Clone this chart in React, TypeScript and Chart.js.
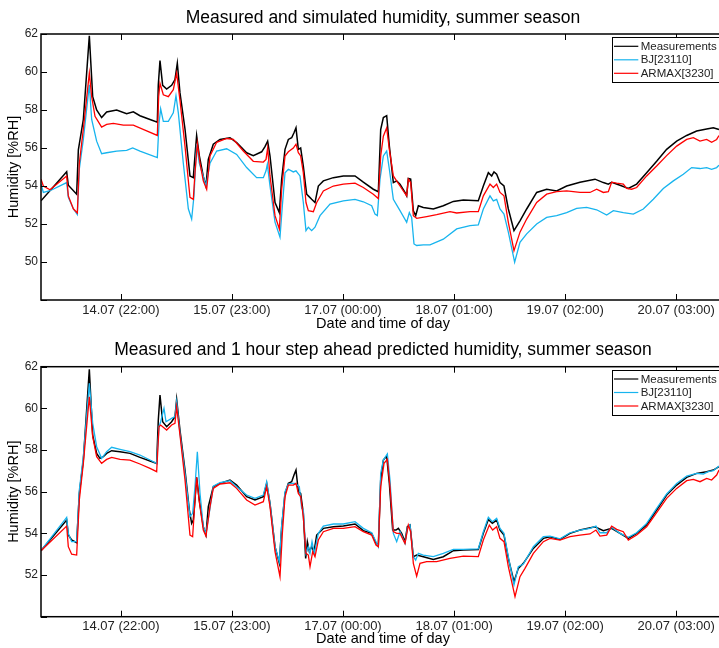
import React, { useEffect, useRef } from 'react';
import { Chart, registerables } from 'chart.js';

Chart.register(...registerables);

const FONT = '"Liberation Sans", Arial, Helvetica, sans-serif';

// Time axis: hours since 14.07 00:00
const tickHours = [22, 47, 72, 97, 122, 147];
const tickLabels = ['14.07 (22:00)', '15.07 (23:00)', '17.07 (00:00)', '18.07 (01:00)', '19.07 (02:00)', '20.07 (03:00)'];
const seriesNames = ['Measurements', 'BJ[23110]', 'ARMAX[3230]'];
const seriesColors = ['#000000', '#17b4ee', '#ff0000'];
const seriesWidths = [1.5, 1.3, 1.3];

// ---- Simulated (top panel) ----
const simMeas = [
  [4.0, 53.22], [9.78, 54.75], [10.15, 54.04], [12.03, 53.57], [12.41, 55.9], [13.53, 57.5], [14.88, 61.9], [15.64, 58.7],
  [16.53, 58.0], [17.65, 57.6], [18.78, 57.9], [21.03, 58.0], [23.28, 57.8], [24.78, 57.9], [26.28, 57.7], [28.54, 57.5],
  [30.19, 57.36], [30.41, 59.33], [30.79, 60.6], [31.39, 59.3], [32.29, 59.1], [33.41, 59.3], [34.16, 59.6], [34.69, 60.46],
  [35.29, 58.9], [36.42, 57.0], [37.54, 54.53], [38.29, 54.44], [38.67, 55.6], [39.04, 56.66], [39.64, 55.6], [40.54, 54.5],
  [41.14, 54.0], [41.67, 55.4], [42.79, 56.2], [44.3, 56.45], [46.55, 56.54], [48.05, 56.28], [50.3, 55.75], [51.8, 55.6],
  [53.68, 55.8], [54.43, 56.07], [55.03, 56.36],
  [55.56, 55.58], [56.69, 53.13], [57.66, 52.6], [58.19, 54.36], [58.94, 55.93], [59.69, 56.45], [60.44, 56.54], [60.96, 56.8],
  [61.41, 57.06], [61.94, 55.93], [62.46, 56.0], [63.06, 55.05], [63.59, 54.0], [63.82, 53.57], [64.19, 53.48], [64.94, 53.3],
  [65.69, 53.13], [66.44, 54.0], [67.57, 54.27], [69.82, 54.44], [72.07, 54.53], [74.7, 54.53], [76.57, 54.2], [78.82, 53.83],
  [79.95, 53.7], [80.48, 56.97], [81.08, 57.6], [81.83, 57.7], [82.43, 56.1], [83.33, 54.18], [84.08, 54.27], [84.83, 54.1],
  [85.95, 53.66], [86.33, 53.48], [86.7, 54.4], [87.23, 54.36], [87.83, 52.7], [88.36, 52.44], [88.96, 52.96], [90.08, 52.87],
  [92.33, 52.79], [94.58, 52.96], [96.84, 53.19], [99.09, 53.26], [102.46, 53.22], [103.59, 54.0], [104.72, 54.7], [105.47, 54.53],
  [105.99, 54.74], [106.59, 54.62], [107.34, 54.18],
  [108.24, 54.0], [109.22, 52.79], [110.49, 51.65], [111.84, 52.17], [113.35, 52.79], [115.6, 53.66], [117.85, 53.83], [120.1, 53.74],
  [122.35, 54.0], [125.35, 54.2], [128.73, 54.36], [130.61, 54.18], [131.73, 54.1], [132.48, 54.2], [134.36, 54.04], [136.23, 53.87],
  [138.11, 54.1], [140.36, 54.7], [142.61, 55.3], [144.86, 55.93], [147.12, 56.36], [149.37, 56.66], [151.62, 56.89], [153.87, 57.0],
  [155.37, 57.06], [156.65, 56.97],
];

const simBj = [
  [4.0, 54.1], [4.53, 53.66], [6.03, 53.75], [9.78, 54.18], [10.15, 53.4], [11.28, 52.8], [12.18, 52.5], [12.63, 54.9],
  [13.53, 56.45], [14.88, 59.33], [15.41, 57.5], [16.53, 56.36], [17.65, 55.7], [18.78, 55.75], [21.03, 55.84], [23.28, 55.87],
  [24.64, 56.0], [26.28, 55.84], [30.19, 55.5], [30.57, 57.3], [30.94, 58.06], [31.54, 57.4], [32.67, 57.4], [33.79, 57.85],
  [34.39, 58.75], [34.92, 57.85], [36.04, 55.2], [37.17, 52.8], [37.92, 52.26], [38.45, 53.5], [39.04, 56.2], [39.64, 55.2],
  [40.54, 54.5], [41.14, 54.0], [42.05, 55.2], [43.55, 55.84], [45.8, 55.96], [48.05, 55.66], [50.3, 54.97], [52.55, 54.44],
  [54.06, 54.44], [54.66, 54.8], [54.96, 55.14],
  [55.56, 54.0], [56.69, 52.1], [57.81, 51.3], [58.34, 52.96], [58.94, 54.7], [59.69, 54.88], [60.81, 54.74], [61.41, 54.8],
  [62.31, 54.53], [63.06, 53.13], [63.66, 51.65], [64.19, 51.83], [64.94, 51.65], [65.69, 51.83], [66.82, 52.44], [69.07, 53.05],
  [72.07, 53.22], [74.7, 53.3], [76.57, 53.17], [78.45, 52.96], [79.2, 52.52], [79.73, 52.44], [80.33, 54.36], [81.08, 55.58],
  [81.83, 55.84], [82.43, 54.88], [83.33, 53.3], [84.83, 52.7], [86.33, 52.09], [86.93, 52.6], [87.45, 52.35], [87.98, 50.95],
  [88.58, 50.87], [90.08, 50.9], [91.58, 50.9], [94.58, 51.2], [97.59, 51.74], [100.59, 51.91], [102.46, 51.95], [103.59, 52.79],
  [105.09, 53.48], [105.84, 53.22], [106.59, 53.3], [107.34, 52.79],
  [108.24, 52.52], [109.22, 51.57], [110.64, 49.99], [111.84, 51.04], [113.35, 51.48], [115.6, 52.0], [117.85, 52.35], [120.1, 52.44],
  [122.35, 52.6], [124.6, 52.82], [126.85, 52.87], [129.1, 52.75], [131.36, 52.47], [132.86, 52.7], [135.11, 52.6], [137.36, 52.52],
  [139.61, 52.79], [141.86, 53.3], [144.11, 53.87], [146.37, 54.27], [148.62, 54.62], [150.49, 54.97], [152.37, 54.92], [153.87, 54.97],
  [154.99, 54.88], [156.12, 54.97], [156.65, 55.1],
];

const simArmax = [
  [4.0, 54.36], [4.53, 54.0], [6.03, 53.8], [9.78, 54.53], [10.15, 53.48], [11.28, 52.8], [12.18, 52.58], [12.63, 55.2],
  [13.53, 57.0], [14.88, 59.94], [15.41, 58.7], [16.16, 57.67], [17.65, 57.1], [18.78, 57.24], [20.29, 57.3], [22.54, 57.2],
  [24.78, 57.2], [27.79, 56.9], [30.19, 56.66], [30.49, 58.7], [30.79, 59.4], [31.54, 58.8], [32.67, 58.7], [33.79, 59.07],
  [34.54, 59.94], [35.29, 58.5], [36.42, 56.1], [37.54, 53.4], [38.29, 53.3], [38.67, 54.7], [39.2, 56.24], [39.8, 55.2],
  [40.54, 54.27], [41.3, 53.83], [42.05, 55.58], [43.55, 56.3], [45.8, 56.5], [47.3, 56.45], [49.55, 55.84], [51.8, 55.3],
  [54.06, 55.26], [54.66, 55.4], [55.03, 56.0],
  [55.56, 54.53], [56.69, 52.44], [57.66, 51.74], [58.19, 53.83], [58.94, 55.58], [59.69, 55.8], [60.81, 56.0], [61.41, 56.2],
  [61.94, 55.75], [62.46, 55.58], [63.06, 54.7], [63.66, 53.13], [64.19, 52.7], [65.32, 52.65], [66.07, 53.13], [67.57, 53.74],
  [69.82, 54.0], [72.07, 54.1], [74.7, 54.15], [76.57, 53.92], [78.82, 53.57], [79.95, 53.34], [80.48, 55.58], [81.08, 56.62],
  [81.83, 57.06], [82.43, 55.93], [83.33, 54.53], [84.83, 54.0], [86.33, 53.48], [86.7, 54.36], [87.23, 54.18], [87.83, 52.44],
  [88.58, 52.3], [90.83, 52.39], [93.08, 52.49], [96.09, 52.65], [97.59, 52.58], [100.59, 52.65], [102.46, 52.65], [103.59, 53.48],
  [105.09, 54.1], [105.84, 53.92], [106.59, 54.1], [107.34, 53.66],
  [108.24, 53.48], [109.22, 52.09], [110.49, 50.6], [111.84, 51.57], [113.35, 52.26], [115.6, 53.13], [117.85, 53.57], [120.1, 53.7],
  [122.35, 53.74], [125.35, 53.66], [127.6, 53.66], [129.1, 53.83], [130.61, 53.66], [131.73, 53.7], [132.48, 54.2], [133.61, 54.15],
  [135.11, 54.1], [135.86, 53.87], [136.98, 53.83], [138.11, 53.92], [140.36, 54.53], [142.61, 55.05], [144.86, 55.6], [147.12, 56.1],
  [149.37, 56.45], [150.87, 56.54], [152.37, 56.36], [153.87, 56.45], [154.99, 56.3], [156.12, 56.45], [156.65, 56.66],
];

// ---- 1 hour ahead prediction (bottom panel) ----
const predMeas = [
  [4.0, 53.17], [9.78, 54.64], [10.15, 53.92], [10.9, 53.68], [12.03, 53.55], [12.63, 55.92], [13.53, 57.52], [14.88, 61.87],
  [15.64, 58.72], [16.53, 57.84], [17.28, 57.6], [18.03, 57.68], [18.78, 57.84], [19.91, 57.97], [21.79, 57.92], [24.04, 57.84],
  [26.28, 57.65], [28.54, 57.47], [30.04, 57.36], [30.41, 59.44], [30.79, 60.64], [31.39, 59.36], [32.29, 59.12], [33.41, 59.36],
  [34.16, 59.6], [34.54, 60.43], [35.29, 58.96], [36.42, 57.04], [37.4, 55.12], [37.92, 54.48], [38.29, 54.64], [38.67, 55.6],
  [39.04, 56.69], [39.64, 55.6], [40.54, 54.32], [41.14, 53.92], [41.67, 55.28], [42.79, 56.24], [44.3, 56.4], [46.55, 56.56],
  [48.05, 56.32], [50.3, 55.76], [52.18, 55.6], [54.06, 55.76], [54.81, 56.4],
  [55.56, 55.44], [56.69, 53.36], [57.66, 52.56], [58.19, 54.32], [58.94, 55.92], [59.69, 56.4], [60.44, 56.48], [60.96, 56.8],
  [61.41, 57.04], [61.94, 56.0], [62.46, 55.92], [63.06, 54.96], [63.59, 52.8], [63.97, 53.6], [64.42, 53.12], [64.94, 53.36],
  [65.47, 53.12], [66.07, 53.92], [67.57, 54.24], [69.82, 54.32], [72.07, 54.35], [74.7, 54.45], [76.57, 54.13], [78.45, 54.0],
  [79.42, 53.52], [79.95, 53.44], [80.48, 56.56], [81.08, 57.52], [81.83, 57.71], [82.43, 56.4], [83.18, 54.16], [83.93, 54.16],
  [84.45, 54.24], [85.2, 54.0], [85.95, 53.6], [86.48, 54.32], [87.08, 54.4], [87.83, 52.88], [88.58, 52.96], [90.08, 52.88],
  [92.33, 52.75], [94.58, 52.88], [96.84, 53.17], [99.09, 53.2], [102.46, 53.23], [103.59, 54.0], [104.72, 54.67], [105.62, 54.48],
  [106.59, 54.64], [107.34, 54.16],
  [108.24, 53.92], [109.22, 52.8], [110.49, 51.68], [111.47, 52.32], [112.6, 52.56], [114.85, 53.28], [117.1, 53.76], [118.6, 53.84],
  [120.85, 53.71], [123.1, 54.0], [125.35, 54.16], [128.73, 54.32], [130.61, 54.13], [132.48, 54.24], [134.36, 54.0], [136.23, 53.76],
  [138.11, 54.0], [140.36, 54.4], [142.61, 55.12], [144.86, 55.84], [147.12, 56.32], [149.37, 56.69], [151.62, 56.88], [153.87, 56.96],
  [155.37, 57.04], [156.65, 57.2],
];

const predBj = [
  [4.0, 53.17], [9.78, 54.77], [10.15, 54.0], [10.9, 53.6], [12.03, 53.6], [12.63, 56.08], [13.53, 57.68], [14.88, 61.2],
  [15.64, 59.28], [16.53, 58.16], [17.65, 57.6], [18.78, 57.92], [19.91, 58.13], [21.79, 58.03], [24.04, 57.92], [26.28, 57.76],
  [28.54, 57.52], [30.04, 57.36], [30.57, 59.12], [30.94, 59.36], [31.69, 60.0], [32.14, 59.36], [33.41, 59.52], [34.16, 59.6],
  [34.54, 60.32], [35.29, 58.8], [36.42, 56.88], [37.54, 54.8], [38.14, 54.96], [38.67, 56.24], [39.2, 57.92], [39.8, 55.92],
  [40.54, 54.32], [41.14, 54.0], [42.05, 55.2], [42.79, 56.27], [44.3, 56.43], [46.55, 56.53], [48.05, 56.24], [50.3, 55.84],
  [52.18, 55.68], [54.06, 55.84], [54.81, 56.48],
  [55.56, 55.44], [56.69, 53.36], [57.66, 52.64], [58.19, 54.4], [58.94, 56.0], [59.69, 56.37], [60.44, 56.4], [61.19, 56.4],
  [62.16, 56.24], [62.69, 55.2], [63.06, 55.12], [63.66, 53.04], [64.19, 53.36], [64.57, 53.04], [65.02, 53.6], [65.54, 53.04],
  [66.44, 54.0], [67.57, 54.35], [69.82, 54.45], [72.07, 54.45], [74.7, 54.56], [76.57, 54.24], [78.45, 54.03], [79.42, 53.6],
  [79.95, 53.36], [80.48, 56.88], [81.08, 57.52], [81.98, 57.81], [82.58, 56.56], [83.33, 54.0], [84.08, 53.6], [84.83, 54.08],
  [85.95, 53.52], [86.48, 54.24], [87.08, 54.4], [87.83, 52.88], [88.36, 52.72], [88.96, 53.04], [90.08, 52.96], [92.33, 52.88],
  [94.58, 53.04], [96.84, 53.23], [99.09, 53.23], [102.46, 53.26], [103.59, 54.08], [104.72, 54.77], [105.62, 54.56], [106.59, 54.72],
  [107.34, 54.24],
  [108.24, 54.0], [109.22, 52.88], [110.49, 51.52], [111.47, 52.4], [112.6, 52.53], [114.85, 53.36], [117.1, 53.84], [118.6, 53.87],
  [120.85, 53.74], [123.1, 54.03], [125.35, 54.16], [127.6, 54.24], [128.95, 54.35], [129.85, 54.03], [131.36, 54.03], [132.48, 54.29],
  [134.36, 54.0], [136.23, 53.81], [138.11, 54.03], [140.36, 54.48], [142.61, 55.2], [144.86, 55.89], [147.12, 56.4], [149.37, 56.75],
  [151.62, 56.88], [153.12, 56.85], [154.24, 56.96], [155.37, 57.01], [156.65, 57.23],
];

const predArmax = [
  [4.0, 53.17], [9.78, 54.35], [10.15, 53.36], [10.9, 53.0], [12.03, 52.96], [12.63, 55.6], [13.53, 57.36], [14.88, 60.56],
  [15.64, 58.64], [16.53, 57.68], [17.65, 57.36], [18.78, 57.55], [19.91, 57.65], [21.79, 57.55], [24.04, 57.52], [26.28, 57.33],
  [28.54, 57.12], [30.04, 56.96], [30.57, 59.12], [30.94, 59.2], [32.29, 58.96], [33.41, 59.2], [34.16, 59.28], [34.54, 60.08],
  [35.29, 58.72], [36.42, 56.56], [37.54, 53.92], [38.14, 53.84], [38.67, 55.6], [39.04, 56.69], [39.64, 55.52], [40.54, 54.16],
  [41.14, 53.87], [42.05, 55.28], [42.79, 56.16], [44.3, 56.37], [46.55, 56.43], [48.05, 56.16], [50.3, 55.6], [52.18, 55.36],
  [54.06, 55.52], [54.81, 56.24],
  [55.56, 55.28], [56.69, 53.12], [57.81, 51.92], [58.34, 54.0], [58.94, 55.76], [59.69, 56.32], [60.81, 56.32], [61.41, 56.4],
  [61.94, 55.92], [62.46, 55.76], [63.06, 54.8], [63.66, 53.04], [64.19, 52.96], [64.57, 52.4], [65.17, 53.12], [65.69, 52.88],
  [66.44, 53.68], [67.57, 54.08], [69.82, 54.24], [72.07, 54.24], [74.7, 54.32], [76.57, 54.08], [78.45, 53.92], [79.42, 53.44],
  [79.95, 53.36], [80.48, 56.24], [81.23, 57.36], [81.98, 57.55], [82.58, 56.24], [83.33, 54.08], [84.08, 54.0], [84.83, 54.0],
  [85.95, 53.52], [86.7, 54.4], [87.23, 54.08], [87.83, 52.56], [88.58, 51.95], [89.33, 52.56], [90.83, 52.64], [93.08, 52.64],
  [96.09, 52.8], [99.09, 52.91], [102.46, 52.88], [103.59, 53.68], [104.94, 54.4], [105.69, 54.16], [106.59, 54.32], [107.34, 53.76],
  [108.24, 53.6], [109.22, 52.4], [110.72, 50.96], [111.84, 51.92], [112.97, 52.32], [114.85, 53.04], [117.1, 53.6], [118.6, 53.76],
  [120.85, 53.68], [123.1, 53.84], [125.35, 53.92], [127.6, 53.97], [128.95, 54.16], [129.85, 53.87], [131.36, 53.92], [132.48, 54.35],
  [133.61, 54.19], [135.11, 54.08], [136.23, 53.68], [138.11, 53.92], [140.36, 54.32], [142.61, 55.0], [144.86, 55.68], [147.12, 56.16],
  [149.37, 56.53], [150.87, 56.59], [152.37, 56.48], [153.87, 56.64], [154.99, 56.56], [156.12, 56.8], [156.65, 57.04],
];

// MATLAB-like frame: box, inward ticks on all sides, boxed legend
const framePlugin = {
  id: 'matlabFrame',
  afterDatasetsDraw(chart: any) {
    const { ctx, chartArea: a, scales } = chart;
    ctx.save();
    ctx.strokeStyle = '#000';
    ctx.lineWidth = 1;
    const TL = 6;
    ctx.beginPath();
    for (const t of scales.x.ticks) {
      const px = Math.round(scales.x.getPixelForValue(t.value)) + 0.5;
      ctx.moveTo(px, a.top);
      ctx.lineTo(px, a.top + TL);
      ctx.moveTo(px, a.bottom);
      ctx.lineTo(px, a.bottom - TL);
    }
    for (const t of scales.y.ticks) {
      const py = Math.round(scales.y.getPixelForValue(t.value)) + 0.5;
      ctx.moveTo(a.left, py);
      ctx.lineTo(a.left + TL, py);
      ctx.moveTo(a.right, py);
      ctx.lineTo(a.right - TL, py);
    }
    ctx.stroke();
    ctx.lineWidth = 1.5;
    ctx.strokeRect(a.left, a.top, a.right - a.left, a.bottom - a.top);

    // legend
    const lx = a.right - 112.7;
    const ly = a.top + 3.3;
    const lw = 110;
    const lh = 45;
    ctx.fillStyle = '#fff';
    ctx.fillRect(lx, ly, lw, lh);
    ctx.lineWidth = 1;
    ctx.strokeStyle = '#000';
    ctx.strokeRect(Math.round(lx) + 0.5, Math.round(ly) + 0.5, lw, lh);
    const rows = [9, 22.5, 36];
    ctx.font = '11.5px ' + FONT;
    ctx.textBaseline = 'middle';
    ctx.textAlign = 'left';
    seriesNames.forEach((name, i) => {
      const y = ly + rows[i];
      ctx.strokeStyle = seriesColors[i];
      ctx.lineWidth = 1.2;
      ctx.beginPath();
      ctx.moveTo(lx + 1.7, y);
      ctx.lineTo(lx + 26, y);
      ctx.stroke();
      ctx.fillStyle = '#222';
      ctx.fillText(name, lx + 28.4, y + 0.5);
    });
    ctx.restore();
  },
};

interface PanelProps {
  title: string;
  series: number[][][];
  yMin: number;
  yMax: number;
  height: number;
  top: number;
  titlePad: { top: number; bottom: number };
  xAxisHeight: number;
  tickPad: number;
  xTitleBottom: number;
}

function Panel(props: PanelProps) {
  const ref = useRef<HTMLCanvasElement>(null);
  useEffect(() => {
    const chart = new Chart(ref.current as HTMLCanvasElement, {
      type: 'line',
      data: {
        datasets: props.series.map((s, i) => ({
          label: seriesNames[i],
          data: s.map((p) => ({ x: p[0], y: p[1] })),
          borderColor: seriesColors[i],
          backgroundColor: seriesColors[i],
          borderWidth: seriesWidths[i],
          pointRadius: 0,
          tension: 0,
          fill: false,
          order: 3 - i,
        })),
      },
      options: {
        responsive: false,
        animation: false,
        devicePixelRatio: 1,
        layout: { padding: { left: 0, right: 42, top: 0, bottom: 0 } },
        plugins: {
          legend: { display: false },
          tooltip: { enabled: false },
          title: {
            display: true,
            fullSize: false,
            text: props.title,
            color: '#000',
            font: { family: FONT, size: 17.5, weight: 'normal' },
            padding: props.titlePad,
          },
        },
        scales: {
          x: {
            type: 'linear',
            min: 4,
            max: 158,
            afterBuildTicks: (s: any) => {
              s.ticks = tickHours.map((v) => ({ value: v }));
            },
            afterFit: (s: any) => {
              s.height = props.xAxisHeight;
            },
            grid: { display: false, drawTicks: false },
            border: { display: false },
            ticks: {
              autoSkip: false,
              maxRotation: 0,
              minRotation: 0,
              padding: props.tickPad,
              color: '#222',
              font: { family: FONT, size: 13 },
              callback: (_v: any, i: number) => tickLabels[i],
            },
            title: {
              display: true,
              text: 'Date and time of day',
              color: '#000',
              font: { family: FONT, size: 14.5 },
              padding: { top: 0, bottom: props.xTitleBottom },
            },
          },
          y: {
            type: 'linear',
            min: props.yMin,
            max: props.yMax,
            afterFit: (s: any) => {
              s.width = 41;
            },
            grid: { display: false, drawTicks: false },
            border: { display: false },
            ticks: {
              stepSize: 2,
              padding: 3,
              color: '#222',
              font: { family: FONT, size: 12 },
              callback: (v: any) => (v === props.yMin ? '' : String(v)),
            },
            title: {
              display: true,
              text: 'Humidity [%RH]',
              color: '#000',
              font: { family: FONT, size: 14.5 },
              padding: { top: 5.3, bottom: 0 },
            },
          },
        },
      } as any,
      plugins: [framePlugin],
    });
    return () => chart.destroy();
  }, []);
  return (
    <canvas
      ref={ref}
      width={767}
      height={props.height}
      style={{ position: 'absolute', left: 0, top: props.top, display: 'block' }}
    />
  );
}

export default function App() {
  return (
    <div
      style={{
        position: 'fixed',
        left: 0,
        top: 0,
        width: 719,
        height: 648,
        overflow: 'hidden',
        background: '#fff',
      }}
    >
      <Panel
        title="Measured and simulated humidity, summer season"
        series={[simMeas, simBj, simArmax]}
        yMin={48}
        yMax={62}
        height={333}
        top={0}
        titlePad={{ top: 7.8, bottom: 5.2 }}
        xAxisHeight={33}
        tickPad={2.2}
        xTitleBottom={0.5}
      />
      <Panel
        title="Measured and 1 hour step ahead predicted humidity, summer season"
        series={[predMeas, predBj, predArmax]}
        yMin={50}
        yMax={62}
        height={315}
        top={333}
        titlePad={{ top: 6.5, bottom: 6.2 }}
        xAxisHeight={31.3}
        tickPad={2.3}
        xTitleBottom={0}
      />
    </div>
  );
}
